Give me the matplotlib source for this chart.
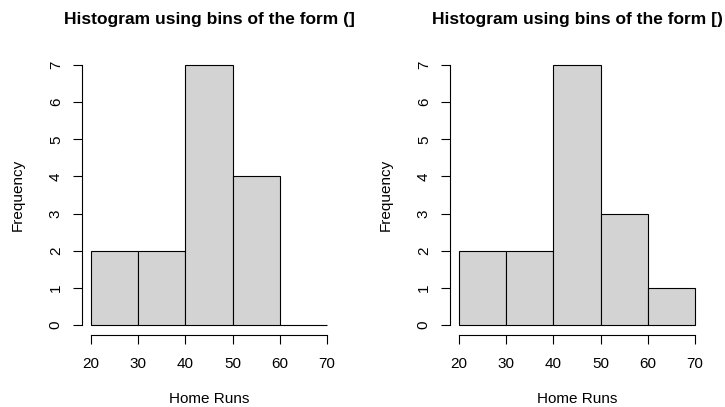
import numpy as np
import matplotlib.pyplot as plt

plt.rcParams['font.family'] = ['Liberation Sans', 'DejaVu Sans']

# home run histogram, two ways of closing the bins
edges = [20, 30, 40, 50, 60, 70]
counts_right = [2, 2, 7, 4, 0]   # (a, b]
counts_left = [2, 2, 7, 3, 1]    # [a, b)
titles = ['Histogram using bins of the form (]',
          'Histogram using bins of the form [)']
x_ticks = [20, 30, 40, 50, 60, 70]
y_ticks = [0, 1, 2, 3, 4, 5, 6, 7]

fig = plt.figure(figsize=(7.25, 4.07), dpi=100)
lefts = [81.6 / 725, 449.6 / 725]
w = 254.8 / 725
b = 1 - 335.4 / 407
h = 280.8 / 407

for left, counts, title in zip(lefts, [counts_right, counts_left], titles):
    ax = fig.add_axes([left, b, w, h])
    e = np.array(edges)
    ax.bar(e[:-1], counts, width=np.diff(e), align='edge',
           color='#d3d3d3', edgecolor='black', linewidth=0.8)
    ax.set_xlim(18, 72)
    ax.set_ylim(-0.28, 7.28)
    for s in ['top', 'right']:
        ax.spines[s].set_visible(False)
    ax.spines['left'].set_bounds(0, 7)
    ax.spines['bottom'].set_bounds(20, 70)
    ax.spines['left'].set_linewidth(0.8)
    ax.spines['bottom'].set_linewidth(0.8)
    ax.set_xticks(x_ticks)
    ax.set_yticks(y_ticks)
    ax.tick_params(direction='out', length=6.5, width=0.8, labelsize=11)
    ax.tick_params(axis='x', pad=9)
    ax.tick_params(axis='y', pad=7)
    ax.set_yticklabels([str(t) for t in y_ticks], rotation=90, va='center')
    ax.set_title(title, fontsize=12.5, fontweight='bold', pad=22)
    ax.set_xlabel('Home Runs', fontsize=11, labelpad=15)
    ax.set_ylabel('Frequency', fontsize=11, labelpad=17)

fig.savefig('out.png', dpi=100)
